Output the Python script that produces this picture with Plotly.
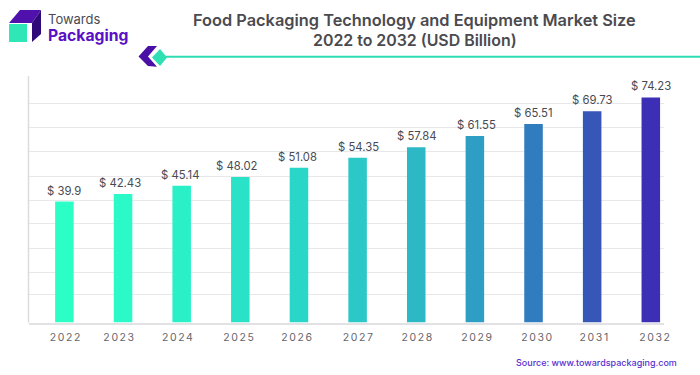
import plotly.graph_objects as go

years = ["2022","2023","2024","2025","2026","2027","2028","2029","2030","2031","2032"]
values = [39.9,42.43,45.14,48.02,51.08,54.35,57.84,61.55,65.51,69.73,74.23]
bar_colors = ["#2BFFC6","#2BF9C7","#2AF0C8","#2AE2C8","#2AD6C8","#2CC8C8","#2DB8C6","#2E9EC4","#2F7CBE","#3656B8","#3D2FB5"]
grid_values = [9.2,16.6,24.5,32.5,40.4,48.3,56.3,64.2,72.1,80]
labels = ["$ 39.9","$ 42.43","$ 45.14","$ 48.02","$ 51.08","$ 54.35","$ 57.84","$ 61.55","$ 65.51","$ 69.73","$ 74.23"]

W, H = 700, 375
def px(x): return x / W
def py(y): return 1 - y / H

positions = list(range(len(years)))
BAND = 58.63
# the reference's labels sit a few pixels off their bars
tick_nudge = [1.5, -3.5, -3.5, -1, -1.5, 1, 1.5, 2.5, 4, 2.5, 4.5]
label_nudge = [0, -3, -2, -3, -1, 1, 1, 2, 0, 0, 0]

fig = go.Figure(go.Bar(
    x=positions, y=values, width=0.316,
    marker=dict(color=bar_colors, line=dict(width=0)),
    hoverinfo="skip",
))

shapes = []
def poly(points, fill):
    path = "M " + " L ".join(f"{px(a):.4f},{py(b):.4f}" for a, b in points) + " Z"
    shapes.append(dict(type="path", xref="paper", yref="paper", path=path, fillcolor=fill, line=dict(width=0), layer="above"))

# header rule and ornament
shapes.append(dict(type="line", xref="paper", yref="paper", x0=px(165), x1=px(700), y0=py(56.7), y1=py(56.7), line=dict(color="#2ddcb2", width=2)))
shapes.append(dict(type="line", xref="paper", yref="paper", x0=px(28.5), x1=px(28.5), y0=py(76), y1=py(322.5), line=dict(color="#dcdcdf", width=1.5)))
poly([(138.5,56.5),(148,46),(157,46),(148,56.5),(157,66.7),(148,66)], "#4a0fa6")
poly([(152,57.5),(160,49),(167,57.5),(160,66),], "#2ee0b4")
# logo
poly([(9,23),(20,10),(41,10),(32,23)], "#4f10ab")
poly([(32,42),(41,34),(41,10),(32,23)], "#2f0a78")
poly([(9,24),(27,24),(27,42),(9,42)], "#2ee6b6")

ann = [
    dict(text="Towards", x=px(46), y=py(18.5), xanchor="left", yanchor="middle", showarrow=False,
         font=dict(family="Inter", size=13, color="#4a4a52")),
    dict(text="Packaging", x=px(45.5), y=py(36), xanchor="left", yanchor="middle", showarrow=False,
         font=dict(family="Inter", size=15.7, weight=700, color="#5a10c4")),
    dict(text="Food Packaging Technology and Equipment Market Size", x=px(414), y=py(20), xanchor="center", yanchor="middle", showarrow=False,
         font=dict(family="Inter", size=16.35, weight=600, color="#4a4a4f")),
    dict(text="2022 to 2032 (USD Billion)", x=px(414.5), y=py(41), xanchor="center", yanchor="middle", showarrow=False,
         font=dict(family="Inter", size=15.9, weight=600, color="#4a4a4f")),
    dict(text="Source: www.towardspackaging.com", x=px(679), y=py(362), xanchor="right", yanchor="middle", showarrow=False,
         font=dict(family="Inter", size=9, weight=500, color="#5a2fd0")),
]
for a in ann:
    a.update(xref="paper", yref="paper")
for i, (v, t, s) in enumerate(zip(values, labels, label_nudge)):
    ann.append(dict(x=i, y=v, xref="x", yref="y", text=t, showarrow=False, xanchor="center", yanchor="bottom",
                    xshift=s, yshift=2, font=dict(family="Inter", size=11.3, color="#474a52")))

fig.update_layout(
    width=W, height=H, margin=dict(l=0, r=0, t=0, b=0, autoexpand=False),
    paper_bgcolor="white", plot_bgcolor="white", showlegend=False,
    shapes=shapes, annotations=ann,
    xaxis=dict(domain=[px(28.5), px(664)], range=[-0.612, 10.225],
               tickvals=[p + n / BAND for p, n in zip(positions, tick_nudge)], ticktext=years,
               showgrid=False, zeroline=False,
               showline=True, linecolor="#e2e2e4", linewidth=1.5, ticks="", ticklen=0, ticklabelstandoff=4,
               tickfont=dict(family="Inter", size=10.5, color="#66666c")),
    yaxis=dict(domain=[py(322.5), py(80)], range=[0, 80],
               tickvals=grid_values, showticklabels=False, showgrid=True, gridcolor="#e8e8ea", gridwidth=1.2,
               zeroline=False, showline=False, ticks=""),
)
fig.write_html("out.html", config={"displayModeBar": False},
    post_script="document.body.style.margin='0';document.body.style.overflow='hidden';document.querySelectorAll('.xtick text').forEach(t=>t.style.letterSpacing='1.6px');")
